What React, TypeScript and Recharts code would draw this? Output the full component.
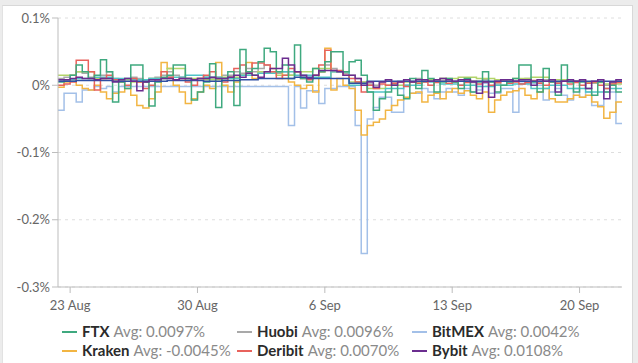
import { LineChart, Line, XAxis, YAxis, CartesianGrid } from 'recharts';

// start of data: 22 Aug 08:00, counted in days from 23 Aug 00:00
const T0 = -2 / 3;
const STEP_8H = 1 / 3;
const STEP_1D = 1;

// x-axis ticks (days from 23 Aug) and their labels
const xTicks = [0, 7, 14, 21, 28];
const xLabels = ['23 Aug', '30 Aug', '6 Sep', '13 Sep', '20 Sep'];
const yTicks = [-0.3, -0.2, -0.1, 0, 0.1];

// funding rates in %, every 8 hours
const ftx = [
  0.005, 0.008, 0.015, 0.03, 0.02, 0.01, 0.015, 0.038, 0.02, -0.025,
  0.005, -0.005, 0.03, 0.03, 0.005, -0.031, 0.005, 0.012, 0.015, 0.03,
  0.03, 0.01, -0.022, -0.01, 0.005, 0.032, -0.033, 0.01, 0.02, -0.03,
  0.053, 0.02, 0.025, 0.035, 0.055, 0.05, 0.02, 0.03, 0.01, 0.06,
  0.01, 0.005, 0.025, 0.02, 0.035, 0.05, 0.05, 0.02, 0.035, 0.037,
  0.015, -0.01, -0.037, -0.02, -0.01, 0.0, -0.015, -0.02, 0.01, -0.005,
  0.022, 0.01, -0.01, 0.005, 0.01, 0.005, -0.005, 0.01, -0.01, 0.005,
  0.02, 0.005, -0.01, 0.0, 0.005, 0.01, 0.03, 0.03, 0.005, -0.01,
  0.025, 0.005, -0.015, 0.03, 0.005, -0.01, 0.005, -0.005, -0.015, 0.005,
  -0.01, 0.0, -0.01,
];
const kraken = [
  -0.003, 0.005, 0.008, 0.0, -0.005, -0.007, 0.0, -0.01, -0.02, -0.012,
  -0.01, -0.005, -0.015, -0.03, -0.034, -0.02, -0.01, 0.034, 0.025, 0.0,
  -0.01, -0.027, -0.02, -0.01, 0.0, -0.005, 0.034, 0.0, -0.01, 0.005,
  0.015, 0.034, 0.01, 0.02, 0.02, 0.025, 0.02, 0.01, 0.005, 0.0,
  -0.005, 0.0, -0.01, 0.02, 0.055, -0.007, 0.01, 0.0, -0.005, -0.037,
  -0.074, -0.06, -0.055, -0.05, -0.037, -0.03, -0.022, -0.018, -0.012, -0.01,
  -0.025, -0.015, -0.012, -0.02, -0.01, -0.005, -0.012, -0.008, -0.015, -0.02,
  -0.01, -0.04, -0.022, -0.015, -0.01, -0.008, -0.005, -0.015, -0.02, -0.01,
  -0.005, -0.02, -0.025, -0.025, -0.02, -0.015, -0.018, -0.015, -0.025, -0.032,
  -0.049, -0.04, -0.025,
];
const bitmex = [
  -0.037, -0.012, -0.012, -0.025, -0.007, -0.007, -0.002, -0.005, -0.002, -0.01,
  -0.002, -0.002, -0.002, -0.002, -0.002, -0.002, -0.002, -0.002, -0.002, -0.002,
  -0.002, -0.002, -0.002, -0.002, -0.002, -0.002, -0.002, -0.002, -0.002, -0.002,
  -0.002, -0.002, -0.002, -0.002, -0.002, -0.002, -0.002, -0.002, -0.06, -0.002,
  -0.034, -0.008, -0.008, -0.027, -0.005, -0.005, -0.002, -0.002, -0.002, -0.06,
  -0.25, -0.05, -0.033, -0.018, -0.018, -0.04, -0.04, 0.0, -0.012, -0.012,
  -0.005, -0.01, -0.02, -0.01, -0.005, -0.01, -0.015, -0.005, -0.01, -0.007,
  0.003, -0.012, -0.012, -0.005, -0.005, -0.04, 0.003, 0.003, 0.003, 0.0,
  -0.022, -0.01, -0.005, -0.015, -0.022, -0.005, -0.018, -0.01, -0.03, -0.03,
  -0.01, -0.01, -0.057,
];
const deribit = [
  0.0, 0.002, 0.005, 0.037, 0.037, 0.02, -0.007, 0.01, 0.015, 0.008,
  0.005, 0.0, 0.01, 0.005, -0.005, 0.0, 0.008, 0.02, 0.012, 0.008,
  0.01, 0.005, 0.0, 0.01, 0.015, 0.02, 0.01, 0.005, 0.012, 0.025,
  0.03, 0.02, 0.033, 0.033, 0.03, 0.02, 0.01, 0.015, 0.025, 0.02,
  0.01, 0.008, 0.015, 0.03, 0.052, 0.022, 0.022, 0.015, 0.01, 0.005,
  -0.01, 0.0, -0.005, 0.002, 0.0, 0.003, 0.005, -0.002, 0.005, 0.003,
  0.005, 0.0, 0.004, 0.006, 0.003, 0.005, 0.0, 0.004, 0.006, 0.002,
  0.005, 0.0, 0.004, 0.006, 0.003, 0.005, 0.002, 0.004, 0.007, 0.003,
  0.0, 0.005, 0.003, 0.006, 0.002, 0.004, 0.0, 0.003, 0.005, 0.0,
  -0.005, 0.002, 0.004,
];
const bybit = [
  0.008, 0.008, 0.01, 0.012, 0.01, 0.01, 0.008, 0.01, 0.01, 0.005,
  0.008, 0.01, 0.006, -0.008, 0.005, 0.008, 0.008, 0.01, 0.01, 0.008,
  0.01, 0.01, 0.008, 0.01, 0.01, 0.012, 0.01, 0.01, 0.012, 0.015,
  0.012, 0.018, 0.015, 0.012, 0.02, 0.025, 0.025, 0.04, 0.03, 0.02,
  0.015, 0.01, 0.015, 0.022, 0.022, 0.022, 0.02, 0.015, 0.015, 0.01,
  0.0, 0.005, -0.003, 0.005, 0.008, 0.0, 0.005, 0.008, 0.005, 0.008,
  0.008, 0.006, 0.008, 0.01, 0.008, 0.006, 0.008, 0.008, 0.005, -0.012,
  0.005, -0.018, 0.006, 0.008, 0.008, 0.006, 0.008, 0.008, 0.0, 0.008,
  0.006, 0.008, -0.01, 0.006, 0.008, 0.006, 0.008, -0.005, 0.006, 0.008,
  -0.02, 0.005, 0.008,
];
const huobi = [
  0.01, 0.012, 0.015, 0.02, 0.018, 0.012, 0.01, 0.015, 0.02, 0.01,
  0.008, 0.01, 0.012, 0.01, 0.008, 0.01, 0.012, 0.015, 0.02, 0.015,
  0.012, 0.01, 0.008, 0.01, 0.012, 0.01, 0.012, 0.015, 0.015, 0.02,
  0.018, 0.025, 0.02, 0.025, 0.03, 0.02, 0.018, 0.02, 0.015, 0.02,
  0.012, 0.01, 0.015, 0.02, 0.03, 0.025, 0.02, 0.018, 0.015, 0.01,
  0.005, 0.002, 0.0, 0.005, 0.008, 0.005, 0.006, 0.008, 0.006, 0.01,
  0.008, 0.006, 0.008, 0.01, 0.006, 0.005, 0.008, 0.006, 0.004, 0.006,
  0.008, 0.005, 0.002, 0.006, 0.008, 0.006, 0.008, 0.01, 0.006, 0.005,
  0.008, 0.006, 0.004, 0.008, 0.006, 0.005, 0.006, 0.004, 0.003, 0.005,
  0.0, 0.004, 0.006,
];

// daily values for the three series in the (cut off) third legend row
const binance = [
  0.006, 0.007, 0.007, 0.006, 0.006, 0.006, 0.007, 0.007, 0.006, 0.007,
  0.008, 0.01, 0.01, 0.012, 0.01, 0.01, 0.003, 0.006, 0.006, 0.006,
  0.006, 0.006, 0.006, 0.006, 0.006, 0.006, 0.006, 0.006, 0.006, 0.006, 0.006,
];
const bitfinex = [
  0.015, 0.02, 0.01, 0.008, 0.005, 0.01, 0.025, 0.01, 0.008, 0.012,
  0.015, 0.02, 0.015, 0.02, 0.025, 0.02, 0.005, -0.005, 0.0, 0.005,
  0.008, 0.01, 0.012, 0.01, 0.008, 0.01, 0.012, 0.008, 0.006, 0.004, 0.002,
];
const okex = [
  0.008, 0.01, 0.012, 0.01, 0.008, 0.01, 0.012, 0.015, 0.012, 0.01,
  0.015, 0.018, 0.02, 0.015, 0.012, 0.02, 0.0, -0.01, -0.005, 0.0,
  0.005, 0.002, 0.0, -0.002, 0.0, 0.002, -0.005, 0.0, -0.005, -0.01, -0.005,
];

// legend entries
const names = ['FTX', 'Huobi', 'BitMEX', 'Kraken', 'Deribit', 'Bybit', 'Binance', 'Bitfinex', 'OKEx'];
const averages = ['0.0097%', '0.0096%', '0.0042%', '-0.0045%', '0.0070%', '0.0108%', '0.0041%', '0.0078%', '0.0084%'];
const colors = ['#3fa97f', '#a9a9a9', '#a3c0e8', '#f2b543', '#e8625c', '#6b2d8f', '#2f4fa3', '#b3d46a', '#4fc3c6'];

// turn a value list into step points, with one extra point so the last step is drawn
const toPoints = (vals: number[], step: number) => {
  const pts = vals.map((v, i) => ({ t: T0 + i * step, v }));
  pts.push({ t: T0 + vals.length * step, v: vals[vals.length - 1] });
  return pts;
};

const series = [
  { key: 'BitMEX', pts: toPoints(bitmex, STEP_8H), color: colors[2] },
  { key: 'Huobi', pts: toPoints(huobi, STEP_8H), color: colors[1] },
  { key: 'Kraken', pts: toPoints(kraken, STEP_8H), color: colors[3] },
  { key: 'Bitfinex', pts: toPoints(bitfinex, STEP_1D), color: colors[7] },
  { key: 'OKEx', pts: toPoints(okex, STEP_1D), color: colors[8] },
  { key: 'Deribit', pts: toPoints(deribit, STEP_8H), color: colors[4] },
  { key: 'FTX', pts: toPoints(ftx, STEP_8H), color: colors[0] },
  { key: 'Binance', pts: toPoints(binance, STEP_1D), color: colors[6] },
  { key: 'Bybit', pts: toPoints(bybit, STEP_8H), color: colors[5] },
];

const fmtY = (v: number) => (v === 0 ? '0%' : `${v}%`);
const fmtX = (v: number) => xLabels[xTicks.indexOf(v)] ?? '';

export default function App() {
  return (
    <div style={{ position: 'absolute', left: 0, top: 0, width: 638, height: 363, overflow: 'hidden', background: '#ececec', fontFamily: 'Lato, sans-serif' }}>
      {/* white card */}
      <div style={{ position: 'absolute', left: 2, top: 5, width: 629, height: 420, background: '#fff', borderTop: '1px solid #d8d8d8', borderRight: '1px solid #d8d8d8', borderLeft: '1px solid #e2e2e2' }} />
      <div style={{ position: 'absolute', left: 0, top: 0 }}>
        <LineChart width={638} height={318} margin={{ top: 18, right: 16, bottom: 0, left: 0 }}>
          <CartesianGrid vertical={false} stroke="#dedede" strokeDasharray="3 4" />
          <XAxis
            type="number"
            dataKey="t"
            domain={[T0, T0 + 31]}
            ticks={xTicks}
            tickFormatter={fmtX}
            allowDataOverflow
            stroke="#bdbdbd"
            tickMargin={8}
            height={31}
            tick={{ fill: '#666', fontSize: 13, fontFamily: 'Lato' }}
          />
          <YAxis
            type="number"
            domain={[-0.3, 0.1]}
            ticks={yTicks}
            tickFormatter={fmtY}
            stroke="#bdbdbd"
            width={58}
            tick={{ fill: '#666', fontSize: 13, fontFamily: 'Lato' }}
          />
          {series.map((s) => (
            <Line
              key={s.key}
              data={s.pts}
              dataKey="v"
              name={s.key}
              type="stepAfter"
              stroke={s.color}
              strokeWidth={1.5}
              dot={false}
              isAnimationActive={false}
            />
          ))}
        </LineChart>
      </div>
      {/* legend: name, average */}
      <div style={{ position: 'absolute', left: 62, top: 322, display: 'grid', gridTemplateColumns: '175px 175px 175px', fontSize: 15, lineHeight: '19px' }}>
        {names.map((n, i) => (
          <div key={n} style={{ display: 'flex', alignItems: 'center', whiteSpace: 'nowrap' }}>
            <span style={{ display: 'inline-block', width: 15, height: 2, background: colors[i], marginRight: 5 }} />
            <span style={{ fontWeight: 700, color: '#2b2b2b' }}>{n}</span>
            <span style={{ color: '#8a8a8a', marginLeft: 4 }}>Avg: {averages[i]}</span>
          </div>
        ))}
      </div>
    </div>
  );
}
